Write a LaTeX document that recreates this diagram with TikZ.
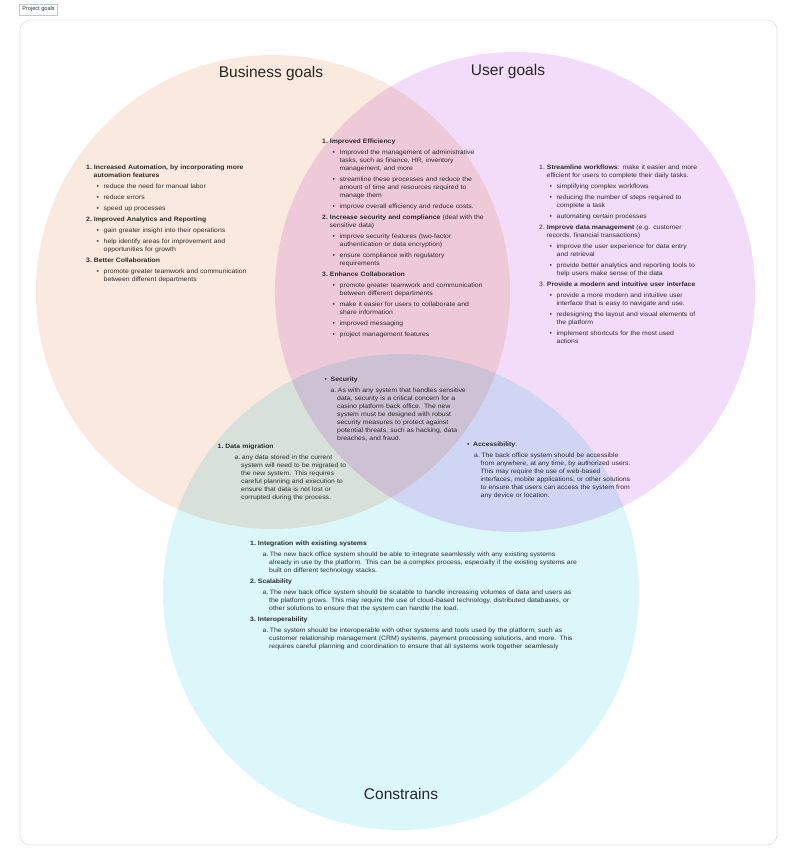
\documentclass[tikz,border=0pt]{standalone}
\usepackage{fontspec}
\setmainfont{Liberation Sans}
\newfontfamily\vennfont{Liberation Sans}[FakeStretch=1.09]
\usepackage{enumitem}
\usetikzlibrary{positioning}
\definecolor{peach}{RGB}{250,233,222}
\definecolor{lilac}{RGB}{243,220,249}
\definecolor{aqua}{RGB}{220,247,250}
\definecolor{framegray}{RGB}{224,226,226}
\definecolor{inkgray}{RGB}{45,45,45}

\newlist{goals}{enumerate}{1}
\setlist[goals]{nosep, label=\textbf{\arabic*.}, leftmargin=7.5pt, labelwidth=5.5pt, labelsep=2pt, align=left, itemsep=3pt}
\newlist{points}{itemize}{1}
\setlist[points]{nosep, label=\textbullet, leftmargin=10pt, labelwidth=4pt, labelsep=3pt, align=left, topsep=3pt, itemsep=3pt}
\newlist{notes}{enumerate}{1}
\setlist[notes]{nosep, label=\alph*., leftmargin=6.5pt, labelwidth=5pt, labelsep=1.5pt, align=left, topsep=3pt}
\newcommand{\venntext}{\vennfont\fontsize{6.3pt}{8.0pt}\selectfont}

\begin{document}
\begin{tikzpicture}[
    x=1pt, y=-1pt,
    venn/.style={
        circle,
        minimum size=#1,
        inner sep=0pt
    },
    title/.style={
        font=\fontsize{15.5pt}{18pt}\selectfont,
        text=black!85
    },
    block/.style={
        anchor=north west,
        inner sep=0pt,
        align=left,
        text width=#1,
        font=\venntext,
        text=inkgray
    },
    tag/.style={
        draw=framegray!80!teal,
        line width=0.5pt,
        inner sep=3pt,
        font=\fontsize{5.6pt}{6.5pt}\selectfont,
        text=black!80
    }
]

\useasboundingbox (0,0) rectangle (798,865);

\draw[framegray, line width=0.7pt, rounded corners=10pt] (20,20) rectangle (777,845);
\node[tag] (tag) at (38.5,9.5) {Project goals};

\begin{scope}[blend mode=multiply]
    \node[venn=474pt, fill=peach] (business) at (273,292) {};
    \node[venn=480pt, fill=lilac] (users)    at (515,292) {};
    \node[venn=476pt, fill=aqua]  (limits)   at (401,592) {};
\end{scope}

\node[title] (businesstitle) at (271,73)  {Business goals};
\node[title] (userstitle)    at (508,71)  {User goals};
\node[title] (limitstitle)   at (401,794) {Constrains};

\node[block=210pt] (businesslist) at (86,161) {%
\begin{goals}
\item \textbf{Increased Automation, by incorporating more\newline automation features}
\begin{points}
\item reduce the need for manual labor
\item reduce errors
\item speed up processes
\end{points}
\item \textbf{Improved Analytics and Reporting}
\begin{points}
\item gain greater insight into their operations
\item help identify areas for improvement and\newline opportunities for growth
\end{points}
\item \textbf{Better Collaboration}
\begin{points}
\item promote greater teamwork and communication\newline between different departments
\end{points}
\end{goals}};

\node[block=210pt] (sharedlist) at (322,135.5) {%
\begin{goals}
\item \textbf{Improved Efficiency}
\begin{points}
\item Improved the management of administrative\newline tasks, such as finance, HR, inventory\newline management, and more
\item streamline these processes and reduce the\newline amount of time and resources required to\newline manage them
\item improve overall efficiency and reduce costs.
\end{points}
\item \textbf{Increase security and compliance} (deal with the\newline sensitive data)
\begin{points}
\item improve security features (two-factor\newline authentication or data encryption)
\item ensure compliance with regulatory\newline requirements
\end{points}
\item \textbf{Enhance Collaboration}
\begin{points}
\item promote greater teamwork and communication\newline between different departments
\item make it easier for users to collaborate and\newline share information
\item improved messaging
\item project management features
\end{points}
\end{goals}};

\node[block=210pt] (userslist) at (539,161) {%
\begin{goals}[label=\arabic*.]
\item \textbf{Streamline workflows}: make it easier and more\newline efficient for users to complete their daily tasks.
\begin{points}
\item simplifying complex workflows
\item reducing the number of steps required to\newline complete a task
\item automating certain processes
\end{points}
\item \textbf{Improve data management} (e.g. customer\newline records, financial transactions)
\begin{points}
\item improve the user experience for data entry\newline and retrieval
\item provide better analytics and reporting tools to\newline help users make sense of the data
\end{points}
\item \textbf{Provide a modern and intuitive user interface}
\begin{points}
\item provide a more modern and intuitive user\newline interface that is easy to navigate and use.
\item redesigning the layout and visual elements of\newline the platform
\item implement shortcuts for the most used\newline actions
\end{points}
\end{goals}};

\node[block=200pt] (securitylist) at (323,373) {%
\begin{points}[topsep=0pt, leftmargin=7.5pt, labelwidth=4pt, labelsep=2pt]
\item \textbf{Security}
\begin{notes}
\item As with any system that handles sensitive\newline data, security is a critical concern for a\newline casino platform back office. The new\newline system must be designed with robust\newline security measures to protect against\newline potential threats, such as hacking, data\newline breaches, and fraud.
\end{notes}
\end{points}};

\node[block=150pt] (migrationlist) at (217.5,440) {%
\begin{goals}
\item \textbf{Data migration}
\begin{notes}[leftmargin=16pt, labelwidth=5pt, labelsep=1.5pt]
\item any data stored in the current\newline system will need to be migrated to\newline the new system. This requires\newline careful planning and execution to\newline ensure that data is not lost or\newline corrupted during the process.
\end{notes}
\end{goals}};

\node[block=200pt] (accesslist) at (465,438) {%
\begin{points}[topsep=0pt, leftmargin=8pt, labelwidth=4pt, labelsep=2pt]
\item \textbf{Accessibility}:
\begin{notes}[leftmargin=7.5pt]
\item The back office system should be accessible\newline from anywhere, at any time, by authorized users.\newline This may require the use of web-based\newline interfaces, mobile applications, or other solutions\newline to ensure that users can access the system from\newline any device or location.
\end{notes}
\end{points}};

\node[block=420pt] (limitslist) at (250,537.5) {%
\begin{goals}
\item \textbf{Integration with existing systems}
\begin{notes}[leftmargin=11.5pt]
\item The new back office system should be able to integrate seamlessly with any existing systems\newline already in use by the platform. This can be a complex process, especially if the existing systems are\newline built on different technology stacks.
\end{notes}
\item \textbf{Scalability}
\begin{notes}[leftmargin=11.5pt]
\item The new back office system should be scalable to handle increasing volumes of data and users as\newline the platform grows. This may require the use of cloud-based technology, distributed databases, or\newline other solutions to ensure that the system can handle the load.
\end{notes}
\item \textbf{Interoperability}
\begin{notes}[leftmargin=11.5pt]
\item The system should be interoperable with other systems and tools used by the platform, such as\newline customer relationship management (CRM) systems, payment processing solutions, and more. This\newline requires careful planning and coordination to ensure that all systems work together seamlessly
\end{notes}
\end{goals}};

\end{tikzpicture}
\end{document}
